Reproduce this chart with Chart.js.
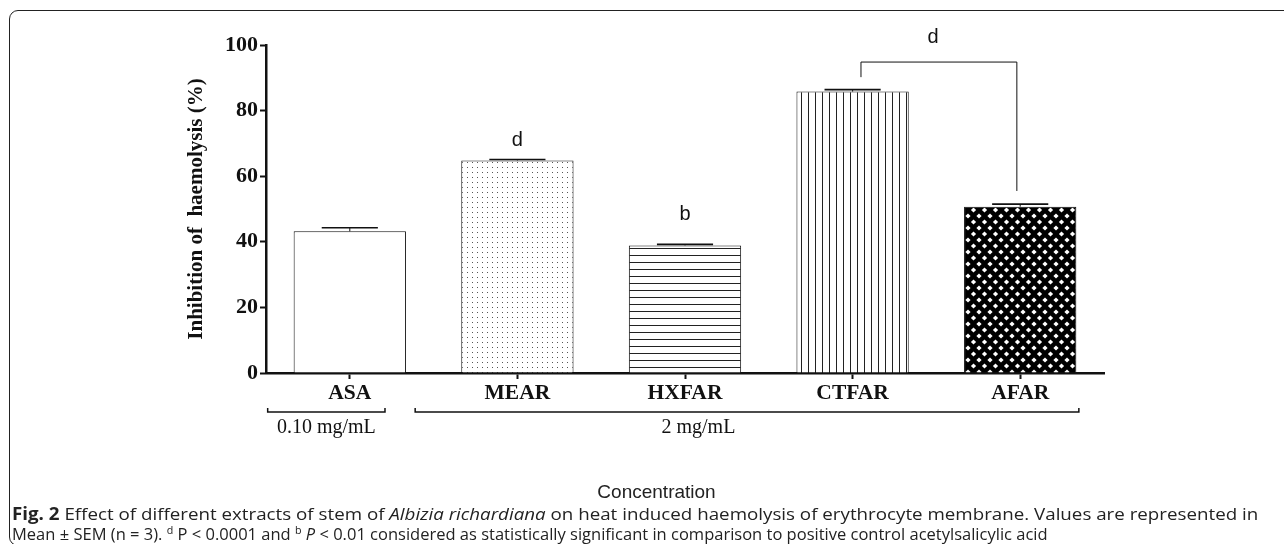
<!DOCTYPE html>
<html>
<head>
<meta charset="utf-8">
<script src="https://cdn.jsdelivr.net/npm/chart.js@4.4.0/dist/chart.umd.min.js"></script>
<style>
  html, body { margin: 0; padding: 0; background: #fff; }
  body { width: 1284px; height: 544px; position: relative; overflow: hidden; }
  #frame {
    position: absolute; left: 9px; top: 10px; width: 1300px; height: 536px;
    border: 1.5px solid #222; border-radius: 9px; box-sizing: border-box;
  }
  #wrap { position: absolute; left: 0; top: 0; width: 1284px; height: 544px; }
  .cap {
    position: absolute; left: 12px; white-space: nowrap; transform-origin: left center;
    font-family: "Open Sans", "Noto Sans", sans-serif; font-size: 17px; color: #222;
  }
  .cap sup { font-size: 11px; vertical-align: 6px; line-height: 0; }
</style>
</head>
<body>
<div id="frame"></div>
<div id="wrap"><canvas id="chart" width="1284" height="544"></canvas></div>
<div class="cap" id="cap1" style="top:502px"><b>Fig. 2</b> Effect of different extracts of stem of <i>Albizia richardiana</i> on heat induced haemolysis of erythrocyte membrane. Values are represented in</div>
<div class="cap" id="cap2" style="top:522px">Mean ± SEM (n = 3). <sup>d</sup> P &lt; 0.0001 and <sup>b</sup> <i>P</i> &lt; 0.01 considered as statistically significant in comparison to positive control acetylsalicylic acid</div>
<script>
// data
const categories = ['ASA', 'MEAR', 'HXFAR', 'CTFAR', 'AFAR'];
const means = [43.2, 64.8, 38.9, 85.8, 50.7];
const sems = [1.1, 0.3, 0.3, 0.6, 0.8];
const yTicks = [0, 20, 40, 60, 80, 100];

// significance letters (category position, value)
const sigText = ['d', 'b', 'd'];
const sigAt = [1, 2, 3.48];
const sigY = [71, 48.2, 102.4];
// bracket CTFAR vs AFAR
const brX = [3.05, 3.98];
const brY = [90.2, 94.8, 55.5];

// concentration groups under the axis
const groupLabels = ['0.10 mg/mL', '2 mg/mL'];
const groupFrom = [-0.49, 0.39];
const groupTo = [0.21, 4.35];
const groupLabelAt = [-0.14, 2.08];
const xTitle = 'Concentration';
const xTitleAt = 1.83;

// --- fill patterns ---
function tile(w, h, draw) {
    const c = document.createElement('canvas');
    c.width = w; c.height = h;
    const g = c.getContext('2d');
    draw(g, w, h);
    return document.createElement('canvas').getContext('2d').createPattern(c, 'repeat');
}
const white = '#ffffff';
const dots = tile(5, 5, (g) => {
    g.fillStyle = white; g.fillRect(0, 0, 5, 5);
    g.fillStyle = '#555'; g.fillRect(2, 2, 1, 1);
});
const hLines = tile(8, 7, (g) => {
    g.fillStyle = white; g.fillRect(0, 0, 8, 7);
    g.fillStyle = '#222'; g.fillRect(0, 3, 8, 1);
});
const vLines = tile(7, 8, (g) => {
    g.fillStyle = white; g.fillRect(0, 0, 7, 8);
    g.fillStyle = '#222'; g.fillRect(3, 0, 1, 8);
});
const cross = tile(11, 12, (g) => {
    g.fillStyle = '#000'; g.fillRect(0, 0, 11, 12);
    g.fillStyle = white;
    const dia = (x, y) => {
        g.beginPath();
        g.moveTo(x, y - 2.6); g.lineTo(x + 2.6, y); g.lineTo(x, y + 2.6); g.lineTo(x - 2.6, y);
        g.closePath(); g.fill();
    };
    [[0, 0], [11, 0], [0, 12], [11, 12], [5.5, 6]].forEach(p => dia(p[0], p[1]));
});
const fills = [white, dots, hLines, vLines, cross];

const serif = '"Liberation Serif", "Times New Roman", serif';
const sans = '"Liberation Sans", Arial, sans-serif';

const extras = {
    id: 'extras',
    afterDatasetsDraw(chart) {
        const ctx = chart.ctx;
        const x = chart.scales.x, y = chart.scales.y;
        const meta = chart.getDatasetMeta(0);
        ctx.save();
        ctx.strokeStyle = '#111';

        // error bars (upper half only)
        meta.data.forEach((bar, i) => {
            const half = bar.width / 4;
            const top = y.getPixelForValue(means[i] + sems[i]);
            ctx.lineWidth = 1;
            ctx.beginPath();
            ctx.moveTo(bar.x, bar.y); ctx.lineTo(bar.x, top);
            ctx.stroke();
            ctx.lineWidth = 1.6;
            ctx.beginPath();
            ctx.moveTo(bar.x - half, top); ctx.lineTo(bar.x + half, top);
            ctx.stroke();
        });

        // significance letters
        ctx.fillStyle = '#111';
        ctx.font = '20px ' + sans;
        ctx.textAlign = 'center';
        ctx.textBaseline = 'middle';
        sigText.forEach((t, i) => {
            ctx.fillText(t, x.getPixelForValue(sigAt[i]), y.getPixelForValue(sigY[i]));
        });

        // bracket
        ctx.lineWidth = 1;
        ctx.beginPath();
        ctx.moveTo(x.getPixelForValue(brX[0]), y.getPixelForValue(brY[0]));
        ctx.lineTo(x.getPixelForValue(brX[0]), y.getPixelForValue(brY[1]));
        ctx.lineTo(x.getPixelForValue(brX[1]), y.getPixelForValue(brY[1]));
        ctx.lineTo(x.getPixelForValue(brX[1]), y.getPixelForValue(brY[2]));
        ctx.stroke();

        // concentration groups
        const lineY = chart.chartArea.bottom + 39;
        ctx.lineWidth = 1.5;
        ctx.font = '20px ' + serif;
        groupLabels.forEach((lab, i) => {
            const a = x.getPixelForValue(groupFrom[i]), b = x.getPixelForValue(groupTo[i]);
            ctx.beginPath();
            ctx.moveTo(a, lineY - 4); ctx.lineTo(a, lineY); ctx.lineTo(b, lineY); ctx.lineTo(b, lineY - 4);
            ctx.stroke();
            ctx.fillText(lab, x.getPixelForValue(groupLabelAt[i]), lineY + 16);
        });

        // axis title, set left of the plot centre as in the figure
        ctx.fillStyle = '#222';
        ctx.font = '19px ' + sans;
        ctx.fillText(xTitle, x.getPixelForValue(xTitleAt), chart.chartArea.bottom + 120);
        ctx.restore();
    }
};

new Chart(document.getElementById('chart'), {
    type: 'bar',
    data: {
        labels: categories,
        datasets: [{
            data: means,
            backgroundColor: fills,
            borderColor: '#111',
            borderWidth: 1,
            barPercentage: 0.67,
            categoryPercentage: 1
        }]
    },
    options: {
        responsive: false,
        animation: false,
        events: [],
        layout: { padding: { left: 0, top: 45, right: 180, bottom: 39 } },
        plugins: { legend: { display: false }, tooltip: { enabled: false } },
        scales: {
            x: {
                offset: true,
                afterFit: (s) => { s.height = 132; },
                grid: { offset: false, drawOnChartArea: false, drawTicks: true, tickLength: 6, tickWidth: 2, tickColor: '#111' },
                border: { display: true, color: '#111', width: 2.5 },
                ticks: { color: '#111', padding: 2, font: { family: serif, size: 21.5, weight: 'bold' } },
                title: { display: false }
            },
            y: {
                min: 0, max: 100,
                afterFit: (s) => { s.width = 266; },
                afterBuildTicks: (s) => { s.ticks = yTicks.map(v => ({ value: v })); },
                grid: { drawOnChartArea: false, drawTicks: true, tickLength: 6, tickWidth: 2, tickColor: '#111' },
                border: { display: true, color: '#111', width: 2.5 },
                ticks: { color: '#111', padding: 2, font: { family: serif, size: 22, weight: 'bold' } },
                title: { display: true, text: 'Inhibition of  haemolysis (%)', color: '#111', padding: { top: 184, bottom: 0 }, font: { family: serif, size: 21, weight: 'bold' } }
            }
        }
    },
    plugins: [extras]
});

// squeeze caption lines to the width they take in the figure
[['cap1', 1246], ['cap2', 1036]].forEach(([id, w]) => {
    const el = document.getElementById(id);
    el.style.transform = 'scaleX(' + (w / el.offsetWidth) + ')';
});
</script>
</body>
</html>
